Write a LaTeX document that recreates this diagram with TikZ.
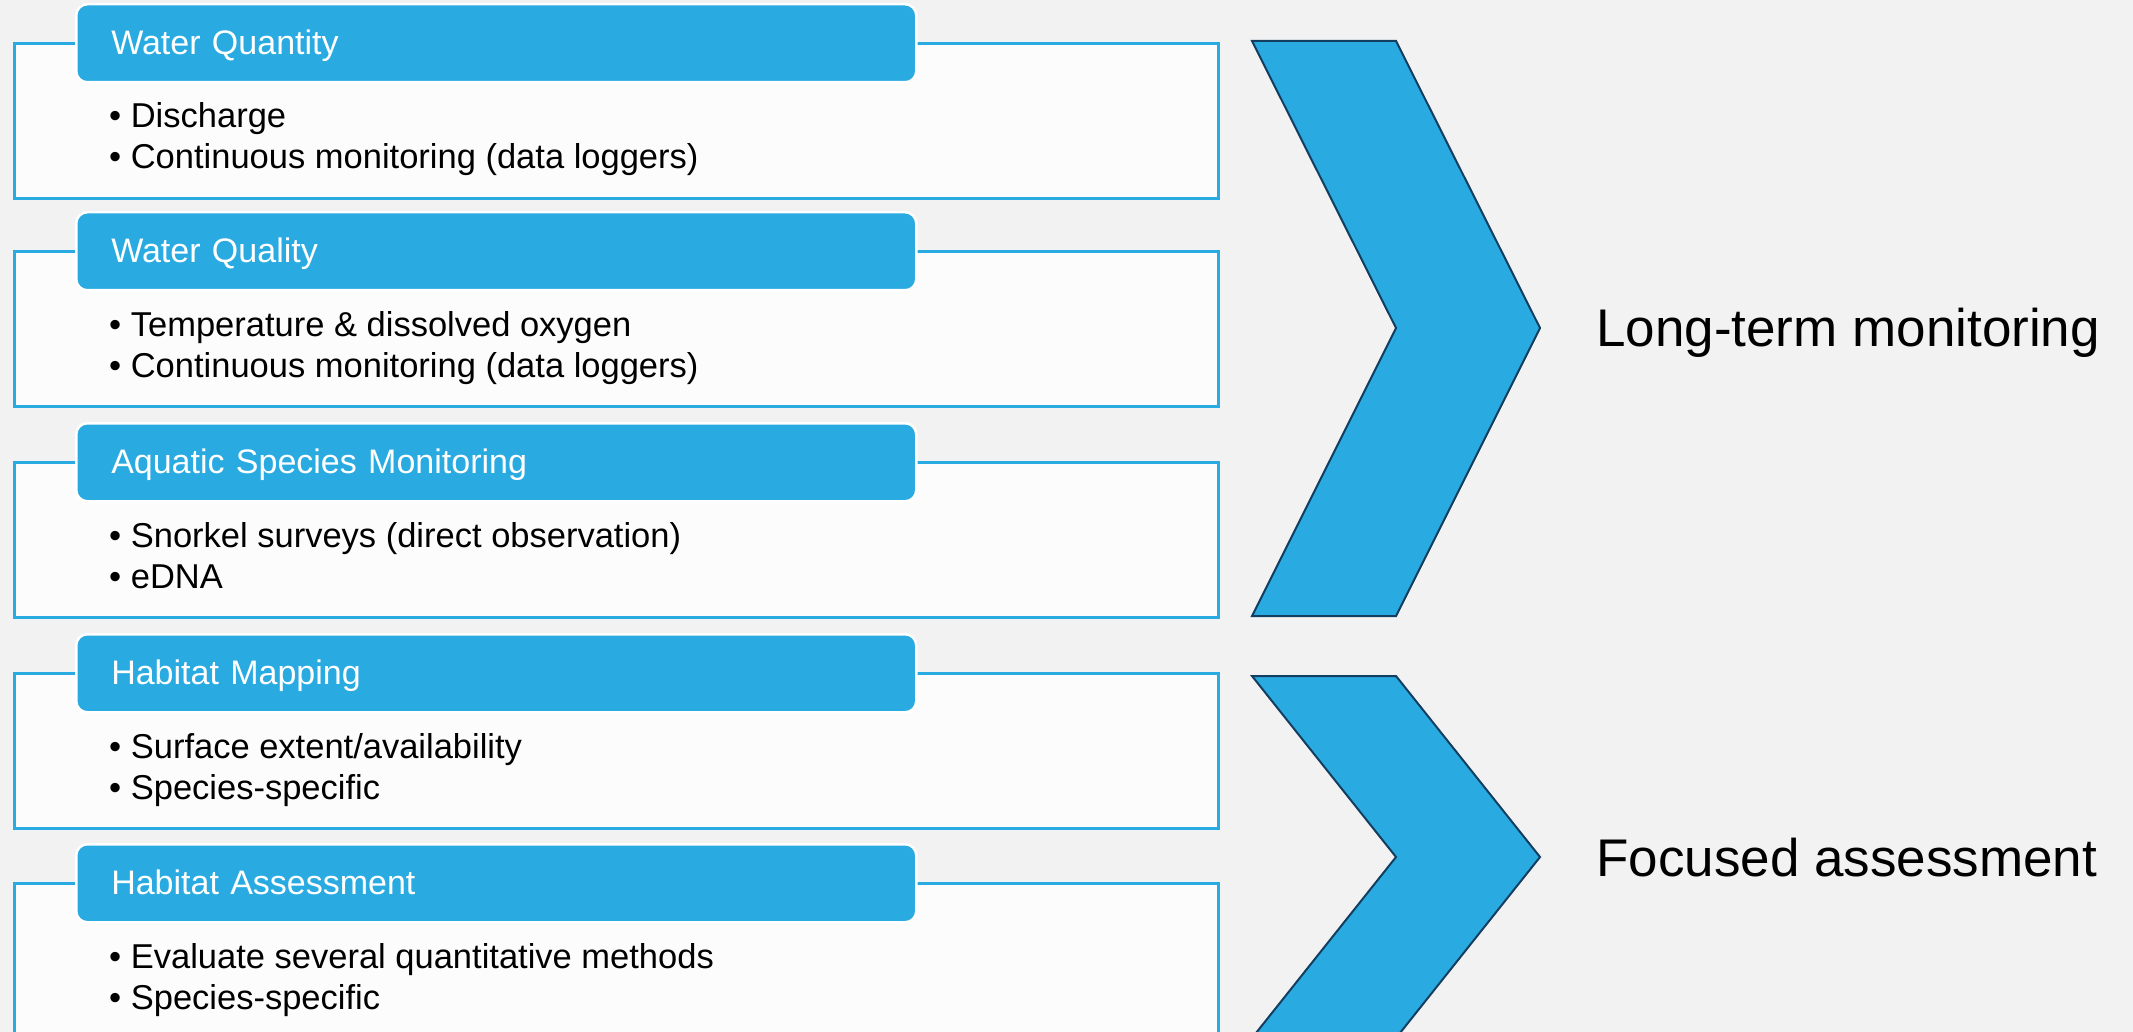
\documentclass[tikz,border=0pt]{standalone}
\usepackage{fontspec}
\setmainfont{Liberation Sans}
\usepackage{tikz}
\definecolor{skyblue}{RGB}{41,171,226}
\definecolor{navyline}{RGB}{20,62,96}
\definecolor{slide}{RGB}{242,242,242}
\tikzstyle{panel}=[draw=skyblue,line width=3pt,fill=white!99!black,minimum width=1204pt,minimum height=155pt,anchor=north west,inner sep=0pt]
\tikzstyle{header}=[draw=white,line width=2.5pt,fill=skyblue,rounded corners=11pt,minimum width=840pt,minimum height=78pt,text width=770pt,inner xsep=35pt,inner ysep=0pt,text height=29pt,text depth=7pt,align=left,anchor=north west,text=white,font=\fontsize{34}{40}\selectfont]
\tikzstyle{item}=[anchor=base west,inner sep=0pt,font=\fontsize{34.5}{41}\selectfont]
\tikzstyle{chevron}=[draw=navyline,line width=2pt,fill=skyblue,line join=miter]
\tikzstyle{phase}=[anchor=base west,inner sep=0pt,font=\fontsize{53}{60}\selectfont]

\begin{document}
\begin{tikzpicture}[x=1pt,y=-1pt]
\useasboundingbox (0, 0) rectangle (2133, 1032);
\fill[slide] (0, 0) rectangle (2133, 1032);
\node[panel] at (13, 42) (qty) {};
\node[header] at (75, 3) (qtyh) {Water Quantity};
\node[item] at (109, 128) (qty1) {\textbullet\ Discharge};
\node[item] at (109, 169) (qty2) {\textbullet\ Continuous monitoring (data loggers)};
\node[panel] at (13, 250) (qual) {};
\node[header] at (75, 211) (qualh) {Water Quality};
\node[item] at (109, 336) (qual1) {\textbullet\ Temperature \& dissolved oxygen};
\node[item] at (109, 377) (qual2) {\textbullet\ Continuous monitoring (data loggers)};
\node[panel] at (13, 461) (spec) {};
\node[header] at (75, 422) (spech) {Aquatic Species Monitoring};
\node[item] at (109, 547) (spec1) {\textbullet\ Snorkel surveys (direct observation)};
\node[item] at (109, 588) (spec2) {\textbullet\ eDNA};
\node[panel] at (13, 672) (map) {};
\node[header] at (75, 633) (maph) {Habitat Mapping};
\node[item] at (109, 758) (map1) {\textbullet\ Surface extent/availability};
\node[item] at (109, 799) (map2) {\textbullet\ Species-specific};
\node[panel] at (13, 882) (assess) {};
\node[header] at (75, 843) (assessh) {Habitat Assessment};
\node[item] at (109, 968) (assess1) {\textbullet\ Evaluate several quantitative methods};
\node[item] at (109, 1009) (assess2) {\textbullet\ Species-specific};
\draw[chevron] (1252, 41) -- (1396, 41) -- (1540, 328) -- (1396, 616) -- (1252, 616) -- (1396, 328) -- cycle;
\draw[chevron] (1252, 676) -- (1396, 676) -- (1540, 857) -- (1396, 1038) -- (1252, 1038) -- (1396, 857) -- cycle;
\node[phase] at (1596, 346) (longterm) {Long-term monitoring};
\node[phase] at (1596, 876) (focused) {Focused assessment};
\end{tikzpicture}
\end{document}
